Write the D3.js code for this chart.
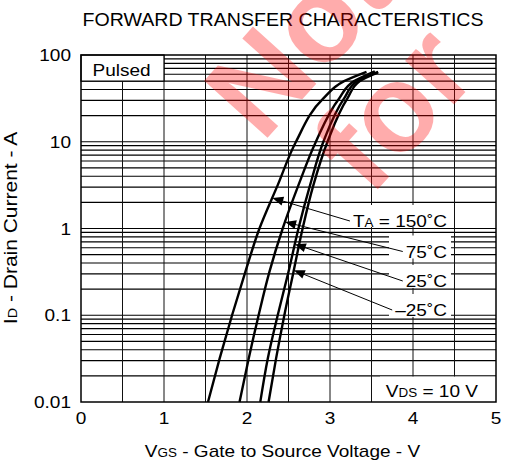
<!DOCTYPE html>
<html>
<head>
<meta charset="utf-8">
<script src="https://cdn.jsdelivr.net/npm/d3@7"></script>
<style>
  body { margin: 0; background: #fff; }
  text { font-family: "Liberation Sans", Arial, sans-serif; fill: #000; }
</style>
</head>
<body>
<div id="chart"></div>
<script>
// ---- data ----
var vgsTicks = [0, 1, 2, 3, 4, 5];
var idTicks = [0.01, 0.1, 1, 10, 100];
var idTickLabels = ["0.01", "0.1", "1", "10", "100"];

// [VGS (V), ID (A)] for each ambient temperature
var curve150 = [[1.53, 0.01], [1.67, 0.0316], [1.82, 0.1], [1.98, 0.316], [2.15, 1], [2.37, 3.16], [2.59, 10], [2.92, 31.6], [3.17, 50], [3.44, 64]];
var curve75  = [[1.91, 0.01], [2.02, 0.0316], [2.14, 0.1], [2.27, 0.316], [2.43, 1], [2.62, 3.16], [2.83, 10], [3.11, 31.6], [3.29, 50], [3.54, 65]];
var curve25  = [[2.16, 0.01], [2.25, 0.0316], [2.37, 0.1], [2.50, 0.316], [2.62, 1], [2.76, 3.16], [2.92, 10], [3.17, 31.6], [3.33, 50], [3.58, 64]];
var curveM25 = [[2.26, 0.01], [2.35, 0.0316], [2.45, 0.1], [2.56, 0.316], [2.67, 1], [2.80, 3.16], [2.97, 10], [3.21, 31.6], [3.36, 50], [3.58, 63]];

var tempLabels = ["150˚C", "75˚C", "25˚C", "–25˚C"];
var arrowCurrents = [2.25, 1.19, 0.66, 0.33];   // where each pointer touches its curve

(function () {
    /* ****** sizes ****** */
    var width = 506, height = 461;
    var sx = 1.12;        // text in the reference is a little wide
    var fs = 17;

    var svg = d3.select("#chart").append("svg")
        .attr("width", width)
        .attr("height", height);

    svg.append("rect").attr("width", width).attr("height", height).attr("fill", "#fff");

    var x = d3.scaleLinear().domain([0, 5]).range([81, 496]);
    var y = d3.scaleLog().domain([0.01, 100]).range([402, 55]);

    function txt(parent, px, py, anchor, size) {
        return parent.append("text")
            .attr("transform", "translate(" + px + "," + py + ") scale(" + sx + ",1)")
            .attr("text-anchor", anchor)
            .style("font-size", size + "px");
    }

    /* ****** grid ****** */
    var grid = svg.append("g");
    var minor = [];
    [0.01, 0.1, 1, 10].forEach(function (dec) {
        for (var m = 1; m <= 9; m++) minor.push(dec * m);
    });
    minor = minor.filter(function (v) { return v > 0.01; });

    grid.selectAll(".h").data(minor).enter().append("line")
        .attr("x1", x(0)).attr("x2", x(5))
        .attr("y1", function (d) { return y(d); })
        .attr("y2", function (d) { return y(d); })
        .attr("stroke", "#000").attr("stroke-width", 1.2);

    grid.selectAll(".v").data(d3.range(0.5, 5, 0.5)).enter().append("line")
        .attr("x1", function (d) { return x(d); })
        .attr("x2", function (d) { return x(d); })
        .attr("y1", y(100)).attr("y2", y(0.01))
        .attr("stroke", "#111").attr("stroke-width", 1);

    /* ****** Pulsed box ****** */
    svg.append("rect")
        .attr("x", x(0)).attr("y", y(100))
        .attr("width", x(1) - x(0)).attr("height", y(50) - y(100))
        .attr("fill", "#fff").attr("stroke", "#000").attr("stroke-width", 1.2);
    txt(svg, 92.5, 76, "start", fs).text("Pulsed");

    /* ****** VDS box ****** */
    svg.append("rect")
        .attr("x", 380).attr("y", y(0.02) + 0.7)
        .attr("width", x(5) - 380).attr("height", y(0.01) - y(0.02) - 0.7)
        .attr("fill", "#fff");
    var vds = txt(svg, 478, 396.5, "end", fs);
    vds.append("tspan").text("V");
    vds.append("tspan").style("font-size", "12px").text("DS");
    vds.append("tspan").text(" = 10 V");

    /* ****** frame ****** */
    svg.append("rect")
        .attr("x", x(0)).attr("y", y(100))
        .attr("width", x(5) - x(0)).attr("height", y(0.01) - y(100))
        .attr("fill", "none").attr("stroke", "#000").attr("stroke-width", 1.5);

    /* ****** curves ****** */
    // VGS is a smooth function of ID, so draw with a monotone curve in y
    var line = d3.line()
        .x(function (d) { return x(d[0]); })
        .y(function (d) { return y(d[1]); })
        .curve(d3.curveMonotoneY);

    var curves = [curve150, curve75, curve25, curveM25];
    svg.append("g").selectAll("path").data(curves).enter().append("path")
        .attr("d", function (d) { return line(d.slice().reverse()); })
        .attr("fill", "none")
        .attr("stroke", "#000")
        .attr("stroke-width", 2.4);

    /* ****** temperature labels with pointers ****** */
    function vAt(c, id) {
        var li = Math.log10(id);
        for (var i = 0; i < c.length - 1; i++) {
            var a = Math.log10(c[i][1]), b = Math.log10(c[i + 1][1]);
            if (li >= a && li <= b) {
                return c[i][0] + (c[i + 1][0] - c[i][0]) * (li - a) / (b - a);
            }
        }
        return c[0][0];
    }

    var labelBase = [227, 257.5, 287, 316];
    var labelRight = 447;
    var ann = svg.append("g");
    tempLabels.forEach(function (lab, i) {
        var g = ann.append("g");
        var box = g.append("rect").attr("fill", "#fff");
        var t = txt(g, labelRight, labelBase[i], "end", fs);
        if (i == 0) {
            t.append("tspan").text("T");
            t.append("tspan").style("font-size", "12px").text("A");
            t.append("tspan").text(" = " + lab);
        } else {
            t.text(lab);
        }
        var w = t.node().getBBox().width * sx;
        var left = labelRight - w;
        var bl = Math.min(left - 3, 389);
        box.attr("x", bl).attr("y", labelBase[i] - 22)
            .attr("width", 451 - bl).attr("height", i == 0 ? 22 : 23);

        // pointer
        var tipX = x(vAt(curves[i], arrowCurrents[i])), tipY = y(arrowCurrents[i]);
        var endX = left - 3, endY = labelBase[i] - 6;
        var dx = endX - tipX, dy = endY - tipY, len = Math.sqrt(dx * dx + dy * dy);
        var ux = dx / len, uy = dy / len;
        var hl = 11, hw = 4.5;
        g.append("line")
            .attr("x1", tipX + ux * hl * 0.8).attr("y1", tipY + uy * hl * 0.8)
            .attr("x2", endX).attr("y2", endY)
            .attr("stroke", "#000").attr("stroke-width", 1);
        g.append("path")
            .attr("d", "M" + tipX + "," + tipY +
                "L" + (tipX + ux * hl - uy * hw) + "," + (tipY + uy * hl + ux * hw) +
                "L" + (tipX + ux * hl + uy * hw) + "," + (tipY + uy * hl - ux * hw) + "Z")
            .attr("fill", "#000");
    });

    /* ****** tick labels ****** */
    idTicks.forEach(function (v, i) {
        txt(svg, 71, y(v) + 6, "end", fs).text(idTickLabels[i]);
    });
    vgsTicks.forEach(function (v) {
        txt(svg, x(v), 423.5, "middle", fs).text(v);
    });

    /* ****** titles ****** */
    txt(svg, 283, 26, "middle", 17.5).text("FORWARD TRANSFER CHARACTERISTICS");

    var xl = txt(svg, 282.5, 457, "middle", fs);
    xl.append("tspan").text("V");
    xl.append("tspan").style("font-size", "12px").text("GS");
    xl.append("tspan").text(" - Gate to Source Voltage - V");

    var yl = svg.append("text")
        .attr("transform", "translate(17,228) rotate(-90) scale(1.2,1)")
        .attr("text-anchor", "middle")
        .style("font-size", "17.5px");
    yl.append("tspan").text("I");
    yl.append("tspan").style("font-size", "12px").text("D");
    yl.append("tspan").text(" - Drain Current - A");

    /* ****** watermark ****** */
    var wm = svg.append("g").attr("opacity", 0.32);
    wm.append("text")
        .attr("transform", "translate(262,144) rotate(-48)")
        .style("font-size", "124px").style("font-weight", "bold").style("fill", "#ff0000")
        .text("Not");
    wm.append("text")
        .attr("transform", "translate(370,198) rotate(-48)")
        .style("font-size", "124px").style("font-weight", "bold").style("fill", "#ff0000")
        .text("for");
})();
</script>
</body>
</html>
